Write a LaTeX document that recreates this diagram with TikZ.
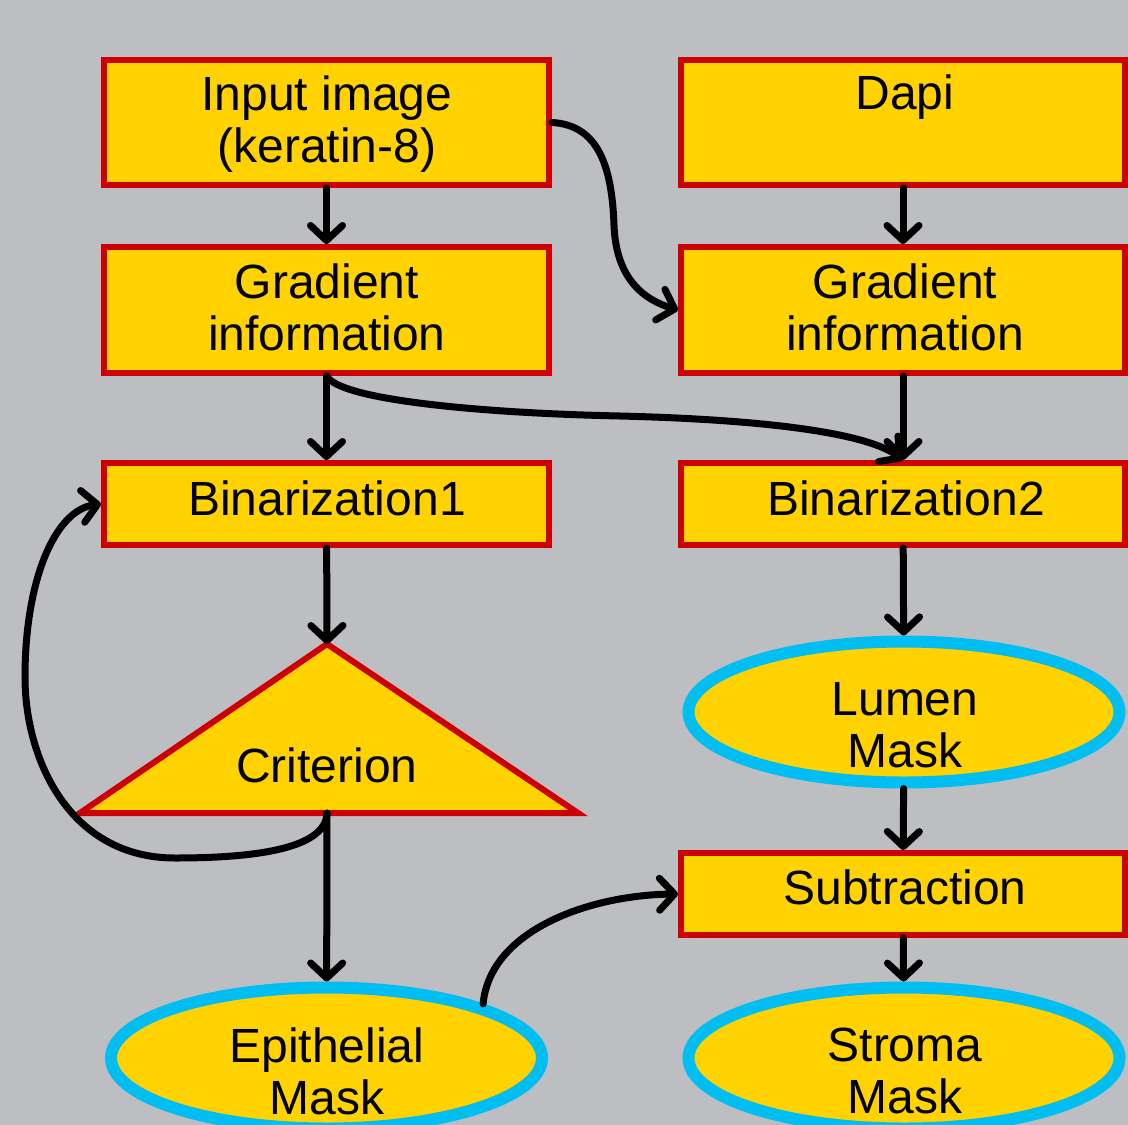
\documentclass[tikz,border=0pt]{standalone}
\usepackage{fontspec}
\setmainfont{Liberation Sans}
\usetikzlibrary{arrows.meta,shapes.geometric}
\definecolor{bg}{RGB}{189,190,194}
\definecolor{boxfill}{RGB}{255,210,0}
\definecolor{boxred}{RGB}{204,0,0}
\definecolor{maskblue}{RGB}{0,190,242}
\begin{document}
\begin{tikzpicture}[x=1pt,y=-1pt,
  box/.style={draw=boxred,fill=boxfill,line width=6pt,rectangle,inner sep=0pt},
  wide/.style={minimum width=445pt},
  wider/.style={minimum width=444pt},
  mask/.style={draw=maskblue,fill=boxfill,line width=12pt,ellipse,inner sep=0pt,minimum width=431pt,minimum height=141pt},
  lbl/.style={font=\fontsize{48}{52}\selectfont,align=center,text=black,inner sep=0pt},
  flow/.style={line width=7pt,line cap=round,-{Straight Barb[length=15pt,width=32pt,round]}}]
\fill[bg] (0,0) rectangle (1128,1125);
\useasboundingbox (0,0) rectangle (1128,1125);

% boxes
\node[box,wide,minimum height=125pt] (in1) at (326.5,122.5) {};
\node[box,wider,minimum height=125pt] (dapi) at (903,122.5) {};
\node[box,wide,minimum height=126pt] (gr1) at (326.5,310) {};
\node[box,wider,minimum height=126pt] (gr2) at (903,310) {};
\node[box,wide,minimum height=82pt] (b1) at (326.5,504) {};
\node[box,wider,minimum height=82pt] (b2) at (903,504) {};
\node[box,wider,minimum height=82pt] (sub) at (903,894) {};

% criterion triangle
\coordinate (apex) at (327,644);
\coordinate (tbase) at (327,813);
\draw[draw=boxred,fill=boxfill,line width=6pt] (apex) -- (578,813) -- (80,813) -- cycle;

% masks
\node[mask] (lumen) at (904,712) {};
\node[mask] (epi) at (326.5,1058) {};
\node[mask] (stroma) at (904,1058) {};

% texts
\node[lbl] (tin1) at (327,124) {Input image\\(keratin-8)};
\node[lbl] (tdapi) at (905,97) {Dapi};
\node[lbl] (tgr1) at (327,307) {Gradient\\information};
\node[lbl] (tgr2) at (905,307) {Gradient\\information};
\node[lbl] (tb1) at (327,498) {Binarization1};
\node[lbl] (tb2) at (906,498) {Binarization2};
\node[lbl] (tcrit) at (327,765) {Criterion};
\node[lbl] (tlumen) at (905,725) {Lumen\\Mask};
\node[lbl] (tsub) at (905,887) {Subtraction};
\node[lbl] (tepi) at (327,1071) {Epithelial\\Mask};
\node[lbl] (tstroma) at (905,1071) {Stroma\\Mask};

% connectors
\draw[flow] (in1) -- (gr1);
\draw[flow] (dapi) -- (gr2);
\draw[flow] (in1.east) .. controls (600,125) and (612,170) .. (614,225)
  .. controls (616,280) and (645,300) .. (gr2.west);
\draw[flow] (gr1) -- (b1);
\draw[flow] (gr2) -- (b2);
\draw[flow] (gr1.south) .. controls (340,400) and (480,413) .. (620,416)
  .. controls (780,420) and (870,435) .. (b2.north);
\draw[flow] (b1) -- (apex);
\draw[flow] (b2) -- (lumen);
\draw[flow] (tbase) .. controls (326,850) and (250,858) .. (175,858)
  .. controls (70,858) and (25,760) .. (25,677)
  .. controls (25,580) and (55,510) .. (b1.west);
\draw[flow] (tbase) -- (epi);
\draw[flow] (lumen) -- (sub);
\draw[flow] (epi.north east) .. controls (490,930) and (590,895) .. (sub.west);
\draw[flow] (sub) -- (stroma);
\end{tikzpicture}
\end{document}
